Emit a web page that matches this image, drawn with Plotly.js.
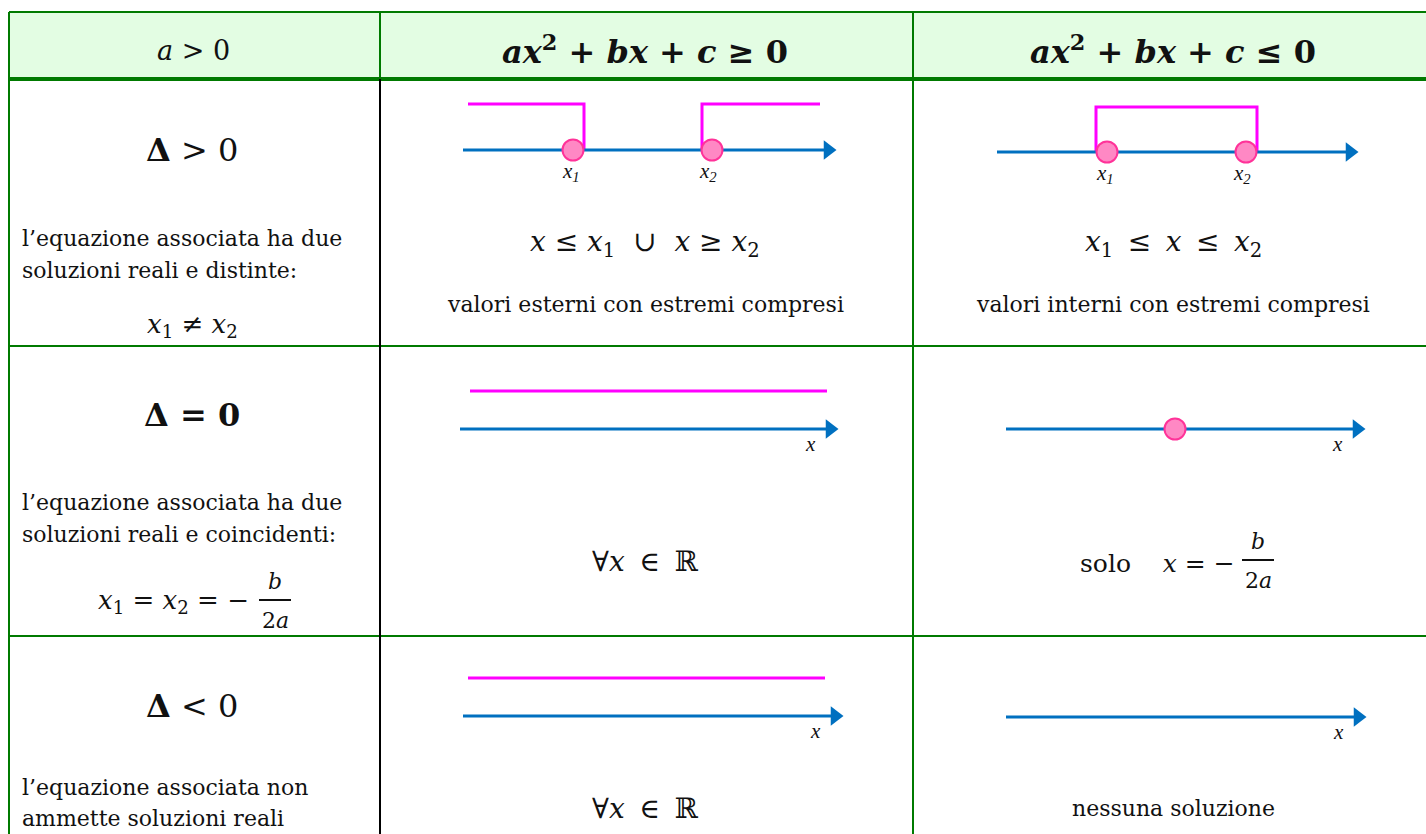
<!DOCTYPE html>
<html>
<head>
<meta charset="utf-8">
<script src="https://cdn.plot.ly/plotly-3.0.1.min.js"></script>
<style>
  body { margin: 0; background: #fff; }
  #tab { width: 1426px; height: 834px; }
</style>
</head>
<body>
<div id="tab"></div>
<script>
// table content
var colHeaders = ['<i>a</i> > 0',
  '<b><i>ax</i><sup>2</sup> + <i>bx</i> + <i>c</i> ≥ 0</b>',
  '<b><i>ax</i><sup>2</sup> + <i>bx</i> + <i>c</i> ≤ 0</b>'];
var caseLabels = ['<b>Δ</b> > 0', '<b>Δ = 0</b>', '<b>Δ</b> < 0'];
var caseLines = [
  ['l’equazione associata ha due', 'soluzioni reali e distinte:'],
  ['l’equazione associata ha due', 'soluzioni reali e coincidenti:'],
  ['l’equazione associata non', 'ammette soluzioni reali']
];
var caseFormula = ['<i>x</i><sub>1</sub> ≠ <i>x</i><sub>2</sub>', '<i>x</i><sub>1</sub> = <i>x</i><sub>2</sub> = −', ''];
var geSolution = ['<i>x</i> ≤ <i>x</i><sub>1</sub>  ∪  <i>x</i> ≥ <i>x</i><sub>2</sub>',
  '∀<i>x</i>\u2009 ∈\u2009 ℝ', '∀<i>x</i>\u2009 ∈\u2009 ℝ'];
var leSolution = ['<i>x</i><sub>1</sub>\u2009 ≤\u2009 <i>x</i>\u2009 ≤\u2009 <i>x</i><sub>2</sub>',
  'solo    <i>x</i> = −', 'nessuna soluzione'];
var geNote = ['valori esterni con estremi compresi', '', ''];
var leNote = ['valori interni con estremi compresi', '', ''];

// number lines (one per cell: row1 ge, row1 le, row2 ge, row2 le, row3 ge, row3 le)
var axisStart = [463, 997, 460, 1006, 463, 1006];
var axisEnd   = [835, 1357, 837, 1364, 842, 1365];
var axisY     = [150, 152, 429, 429, 716, 717];
var axisName  = ['', '', 'x', 'x', 'x', 'x'];
var rootsX    = [[573, 712], [1107, 1246], [], [1175], [], []];
var rootNames = [['x<sub>1</sub>', 'x<sub>2</sub>'], ['x<sub>1</sub>', 'x<sub>2</sub>'], [], [], [], []];
// pink solution brackets: list of polylines [xs, ys]
var solX = [
  [[468, 584, 584], [702, 702, 820]],
  [[1096, 1096, 1257, 1257]],
  [[470, 827]],
  [],
  [[468, 825]],
  []
];
var solY = [
  [[104, 104, 150], [150, 104, 104]],
  [[152, 107, 107, 152]],
  [[391, 391]],
  [],
  [[678, 678]],
  []
];

// table grid
var colEdges = [9, 380, 913, 1430];
var rowEdges = [12, 79, 346, 636, 840];

var serif = 'DejaVu Serif, serif';
var times = 'Liberation Serif, serif';
var GREEN = '#007a00';
var BLUE = '#0070c0';
var MAGENTA = '#ff00ff';

var data = [];
for (var i = 0; i < axisStart.length; i++) {
  for (var s = 0; s < solX[i].length; s++) {
    data.push({x: solX[i][s], y: solY[i][s], mode: 'lines', type: 'scatter',
      line: {color: MAGENTA, width: 3}, hoverinfo: 'none'});
  }
  data.push({x: [axisStart[i], axisEnd[i] - 10], y: [axisY[i], axisY[i]], mode: 'lines', type: 'scatter',
    line: {color: BLUE, width: 3}, hoverinfo: 'none'});
  data.push({x: [axisEnd[i] - 7], y: [axisY[i]], mode: 'markers', type: 'scatter',
    marker: {symbol: 'triangle-right', size: 17, color: BLUE}, hoverinfo: 'none'});
  if (rootsX[i].length) {
    data.push({x: rootsX[i], y: rootsX[i].map(function () { return axisY[i]; }),
      mode: 'markers', type: 'scatter', hoverinfo: 'none',
      marker: {symbol: 'circle', size: 21, color: '#ff88c4', line: {color: '#ff3399', width: 2}}});
  }
}

var ann = [];
function txt(x, y, t, size, opt) {
  opt = opt || {};
  ann.push({x: x, y: y, xref: 'x', yref: 'y', text: t, showarrow: false,
    xanchor: opt.anchor || 'center', yanchor: 'middle', align: opt.anchor || 'center',
    font: {family: opt.family || serif, size: size, color: '#111'}});
}

// header
var headCx = [193, 645, 1173];
for (var c = 0; c < 3; c++) txt(headCx[c], 50, colHeaders[c], c === 0 ? 27 : 32);

// left column
var labelY = [150, 415, 706];
var lineY = [[238, 270], [502, 534], [787, 818]];
for (var r = 0; r < 3; r++) {
  txt(192, labelY[r], caseLabels[r], 32);
  txt(20, lineY[r][0], caseLines[r][0], 22, {anchor: 'left'});
  txt(20, lineY[r][1], caseLines[r][1], 22, {anchor: 'left'});
}
txt(192, 325, caseFormula[0], 26);
txt(251, 601, caseFormula[1], 26, {anchor: 'right'});

// solutions
var solTextY = [243, 561, 808];
for (var r = 0; r < 3; r++) {
  txt(645, solTextY[r], geSolution[r], 28);
  if (r === 1) txt(1237, 563, leSolution[r], 25, {anchor: 'right'});
  else txt(1173, solTextY[r], leSolution[r], r === 2 ? 22 : 28);
  if (geNote[r]) txt(645, 304, geNote[r], 22);
  if (leNote[r]) txt(1173, 304, leNote[r], 22);
}

// axis labels and root labels
for (var i = 0; i < axisStart.length; i++) {
  if (axisName[i]) txt(axisEnd[i] - 27, axisY[i] + 15, '<i>' + axisName[i] + '</i>', 21, {family: times});
  for (var k = 0; k < rootsX[i].length; k++) {
    if (rootNames[i][k]) txt(rootsX[i][k] - (k === 0 ? 2 : 4), axisY[i] + 22, '<i>' + rootNames[i][k] + '</i>', 21, {family: times});
  }
}

// fractions b / 2a
var fracX = [275, 1258];
var fracY = [600, 560];
var shapes = [];
for (var f = 0; f < fracX.length; f++) {
  txt(fracX[f], fracY[f] - 19, '<i>b</i>', 22);
  txt(fracX[f], fracY[f] + 20, '2<i>a</i>', 22);
  shapes.push({type: 'line', xref: 'x', yref: 'y', x0: fracX[f] - 16, x1: fracX[f] + 16,
    y0: fracY[f], y1: fracY[f], line: {color: '#111', width: 2}});
}

// grid shapes
shapes.push({type: 'rect', xref: 'x', yref: 'y', x0: colEdges[0], x1: colEdges[3], y0: rowEdges[0], y1: rowEdges[1],
  fillcolor: '#e3fde3', line: {width: 0}, layer: 'below'});
shapes.push({type: 'line', xref: 'x', yref: 'y', x0: colEdges[0], x1: colEdges[3], y0: rowEdges[0], y1: rowEdges[0], line: {color: GREEN, width: 2}});
shapes.push({type: 'line', xref: 'x', yref: 'y', x0: colEdges[0], x1: colEdges[3], y0: rowEdges[1], y1: rowEdges[1], line: {color: GREEN, width: 4}});
shapes.push({type: 'line', xref: 'x', yref: 'y', x0: colEdges[0], x1: colEdges[3], y0: rowEdges[2], y1: rowEdges[2], line: {color: GREEN, width: 2}});
shapes.push({type: 'line', xref: 'x', yref: 'y', x0: colEdges[0], x1: colEdges[3], y0: rowEdges[3], y1: rowEdges[3], line: {color: GREEN, width: 2}});
shapes.push({type: 'line', xref: 'x', yref: 'y', x0: colEdges[0], x1: colEdges[0], y0: rowEdges[0], y1: rowEdges[4], line: {color: GREEN, width: 2}});
shapes.push({type: 'line', xref: 'x', yref: 'y', x0: colEdges[1], x1: colEdges[1], y0: rowEdges[0], y1: rowEdges[1], line: {color: GREEN, width: 2}});
shapes.push({type: 'line', xref: 'x', yref: 'y', x0: colEdges[1], x1: colEdges[1], y0: rowEdges[1], y1: rowEdges[4], line: {color: '#000', width: 2}});
shapes.push({type: 'line', xref: 'x', yref: 'y', x0: colEdges[2], x1: colEdges[2], y0: rowEdges[0], y1: rowEdges[4], line: {color: GREEN, width: 2}});

var layout = {
  width: 1426, height: 834,
  margin: {l: 0, r: 0, t: 0, b: 0},
  paper_bgcolor: '#fff', plot_bgcolor: '#fff',
  showlegend: false,
  xaxis: {range: [0, 1426], visible: false, fixedrange: true},
  yaxis: {range: [834, 0], visible: false, fixedrange: true},
  shapes: shapes,
  annotations: ann
};

Plotly.newPlot('tab', data, layout, {displayModeBar: false, staticPlot: true});
</script>
</body>
</html>
